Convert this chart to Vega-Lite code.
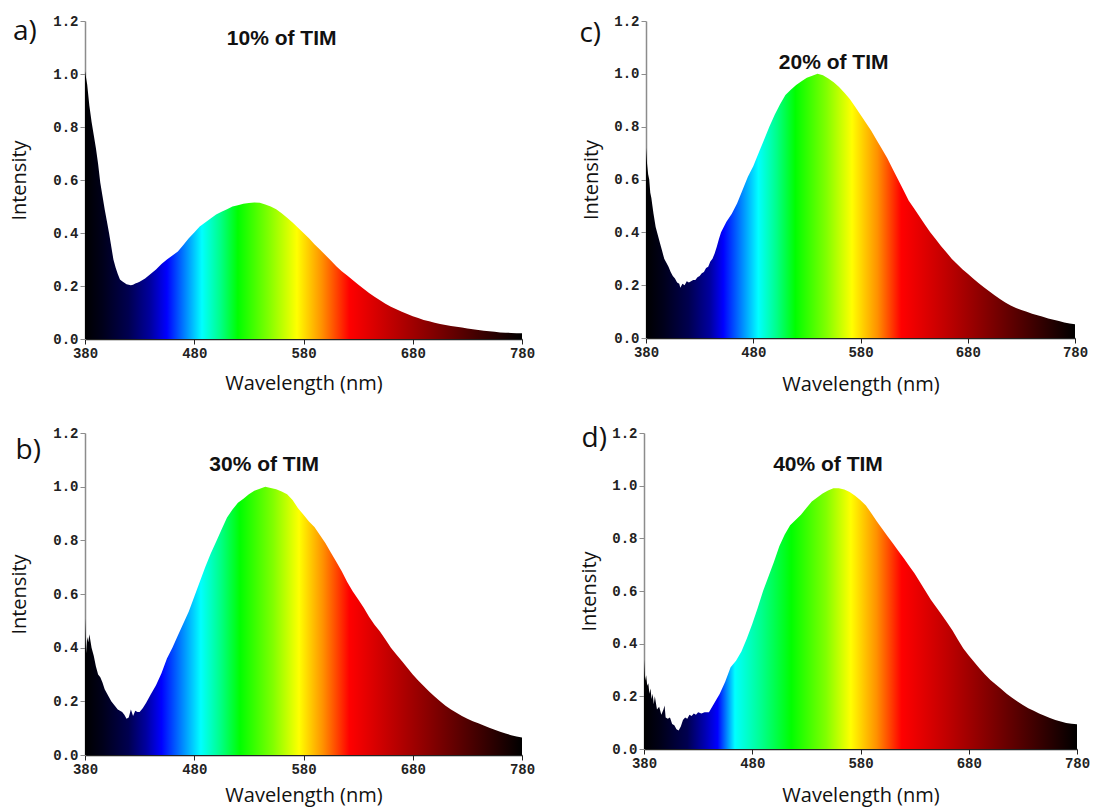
{
"$schema": "https://vega.github.io/schema/vega-lite/v6.json",
"background": "white",
"padding": {"left": 9, "top": 14, "right": 5, "bottom": 5},
"spacing": 31,
"datasets": {
"a": [{"nm":380,"v":1.01},{"nm":382,"v":0.96},{"nm":384,"v":0.88},{"nm":386,"v":0.82},{"nm":388,"v":0.77},{"nm":390,"v":0.72},{"nm":392,"v":0.66},{"nm":394,"v":0.59},{"nm":396,"v":0.54},{"nm":398,"v":0.49},{"nm":400,"v":0.445},{"nm":402,"v":0.4},{"nm":404,"v":0.35},{"nm":406,"v":0.3},{"nm":408,"v":0.27},{"nm":410,"v":0.245},{"nm":412,"v":0.225},{"nm":414,"v":0.218},{"nm":416,"v":0.212},{"nm":418,"v":0.207},{"nm":420,"v":0.205},{"nm":422,"v":0.203},{"nm":424,"v":0.205},{"nm":426,"v":0.209},{"nm":428,"v":0.212},{"nm":430,"v":0.216},{"nm":435,"v":0.228},{"nm":440,"v":0.245},{"nm":445,"v":0.262},{"nm":450,"v":0.283},{"nm":455,"v":0.3},{"nm":460,"v":0.315},{"nm":465,"v":0.33},{"nm":470,"v":0.355},{"nm":475,"v":0.38},{"nm":480,"v":0.402},{"nm":485,"v":0.425},{"nm":490,"v":0.44},{"nm":495,"v":0.455},{"nm":500,"v":0.47},{"nm":505,"v":0.48},{"nm":510,"v":0.49},{"nm":515,"v":0.5},{"nm":520,"v":0.505},{"nm":525,"v":0.51},{"nm":530,"v":0.513},{"nm":535,"v":0.515},{"nm":540,"v":0.514},{"nm":545,"v":0.508},{"nm":550,"v":0.5},{"nm":555,"v":0.49},{"nm":560,"v":0.475},{"nm":565,"v":0.458},{"nm":570,"v":0.44},{"nm":575,"v":0.42},{"nm":580,"v":0.4},{"nm":585,"v":0.38},{"nm":590,"v":0.358},{"nm":595,"v":0.338},{"nm":600,"v":0.317},{"nm":605,"v":0.296},{"nm":610,"v":0.275},{"nm":615,"v":0.256},{"nm":620,"v":0.24},{"nm":625,"v":0.223},{"nm":630,"v":0.206},{"nm":635,"v":0.19},{"nm":640,"v":0.174},{"nm":645,"v":0.159},{"nm":650,"v":0.146},{"nm":655,"v":0.133},{"nm":660,"v":0.122},{"nm":665,"v":0.112},{"nm":670,"v":0.103},{"nm":675,"v":0.094},{"nm":680,"v":0.086},{"nm":685,"v":0.079},{"nm":690,"v":0.072},{"nm":695,"v":0.067},{"nm":700,"v":0.061},{"nm":705,"v":0.057},{"nm":710,"v":0.053},{"nm":715,"v":0.049},{"nm":720,"v":0.046},{"nm":725,"v":0.043},{"nm":730,"v":0.04},{"nm":735,"v":0.037},{"nm":740,"v":0.034},{"nm":745,"v":0.031},{"nm":750,"v":0.029},{"nm":755,"v":0.027},{"nm":760,"v":0.025},{"nm":765,"v":0.024},{"nm":770,"v":0.023},{"nm":775,"v":0.022},{"nm":780,"v":0.022}],
"c": [{"nm":380,"v":0.72},{"nm":381,"v":0.66},{"nm":382,"v":0.62},{"nm":383,"v":0.6},{"nm":384,"v":0.55},{"nm":385,"v":0.53},{"nm":386,"v":0.5},{"nm":387,"v":0.47},{"nm":389,"v":0.42},{"nm":391,"v":0.39},{"nm":393,"v":0.36},{"nm":395,"v":0.33},{"nm":397,"v":0.3},{"nm":399,"v":0.285},{"nm":401,"v":0.27},{"nm":403,"v":0.25},{"nm":405,"v":0.235},{"nm":407,"v":0.225},{"nm":409,"v":0.21},{"nm":411,"v":0.205},{"nm":412,"v":0.19},{"nm":414,"v":0.205},{"nm":416,"v":0.2},{"nm":418,"v":0.215},{"nm":420,"v":0.21},{"nm":422,"v":0.215},{"nm":424,"v":0.22},{"nm":426,"v":0.22},{"nm":428,"v":0.23},{"nm":430,"v":0.235},{"nm":432,"v":0.245},{"nm":434,"v":0.25},{"nm":436,"v":0.265},{"nm":438,"v":0.27},{"nm":440,"v":0.29},{"nm":442,"v":0.3},{"nm":444,"v":0.32},{"nm":446,"v":0.345},{"nm":448,"v":0.375},{"nm":450,"v":0.4},{"nm":455,"v":0.44},{"nm":460,"v":0.47},{"nm":465,"v":0.51},{"nm":470,"v":0.56},{"nm":475,"v":0.61},{"nm":480,"v":0.65},{"nm":485,"v":0.7},{"nm":490,"v":0.75},{"nm":495,"v":0.8},{"nm":500,"v":0.845},{"nm":505,"v":0.885},{"nm":510,"v":0.92},{"nm":515,"v":0.94},{"nm":520,"v":0.958},{"nm":525,"v":0.972},{"nm":530,"v":0.985},{"nm":535,"v":0.993},{"nm":540,"v":1.0},{"nm":545,"v":0.995},{"nm":550,"v":0.982},{"nm":555,"v":0.968},{"nm":560,"v":0.95},{"nm":565,"v":0.928},{"nm":570,"v":0.905},{"nm":575,"v":0.875},{"nm":580,"v":0.845},{"nm":585,"v":0.815},{"nm":590,"v":0.785},{"nm":595,"v":0.75},{"nm":600,"v":0.715},{"nm":605,"v":0.68},{"nm":610,"v":0.64},{"nm":615,"v":0.6},{"nm":620,"v":0.56},{"nm":625,"v":0.52},{"nm":630,"v":0.49},{"nm":635,"v":0.46},{"nm":640,"v":0.43},{"nm":645,"v":0.4},{"nm":650,"v":0.375},{"nm":655,"v":0.348},{"nm":660,"v":0.325},{"nm":665,"v":0.3},{"nm":670,"v":0.28},{"nm":675,"v":0.26},{"nm":680,"v":0.243},{"nm":685,"v":0.225},{"nm":690,"v":0.208},{"nm":695,"v":0.192},{"nm":700,"v":0.177},{"nm":705,"v":0.162},{"nm":710,"v":0.148},{"nm":715,"v":0.134},{"nm":720,"v":0.123},{"nm":725,"v":0.114},{"nm":730,"v":0.106},{"nm":735,"v":0.099},{"nm":740,"v":0.092},{"nm":745,"v":0.086},{"nm":750,"v":0.08},{"nm":755,"v":0.074},{"nm":760,"v":0.069},{"nm":765,"v":0.064},{"nm":770,"v":0.059},{"nm":775,"v":0.055},{"nm":780,"v":0.052}],
"b": [{"nm":380,"v":0.51},{"nm":381,"v":0.38},{"nm":382,"v":0.44},{"nm":383,"v":0.42},{"nm":384,"v":0.45},{"nm":386,"v":0.4},{"nm":388,"v":0.37},{"nm":390,"v":0.33},{"nm":392,"v":0.3},{"nm":394,"v":0.29},{"nm":396,"v":0.27},{"nm":398,"v":0.245},{"nm":400,"v":0.23},{"nm":402,"v":0.215},{"nm":404,"v":0.2},{"nm":406,"v":0.19},{"nm":408,"v":0.18},{"nm":410,"v":0.17},{"nm":412,"v":0.165},{"nm":414,"v":0.16},{"nm":416,"v":0.15},{"nm":418,"v":0.135},{"nm":420,"v":0.14},{"nm":422,"v":0.17},{"nm":424,"v":0.145},{"nm":426,"v":0.165},{"nm":428,"v":0.16},{"nm":430,"v":0.16},{"nm":433,"v":0.175},{"nm":436,"v":0.195},{"nm":440,"v":0.225},{"nm":445,"v":0.26},{"nm":450,"v":0.305},{"nm":455,"v":0.36},{"nm":460,"v":0.4},{"nm":465,"v":0.445},{"nm":470,"v":0.49},{"nm":475,"v":0.535},{"nm":480,"v":0.59},{"nm":485,"v":0.645},{"nm":490,"v":0.7},{"nm":495,"v":0.75},{"nm":500,"v":0.795},{"nm":505,"v":0.84},{"nm":510,"v":0.885},{"nm":515,"v":0.915},{"nm":520,"v":0.94},{"nm":525,"v":0.955},{"nm":530,"v":0.972},{"nm":535,"v":0.985},{"nm":540,"v":0.992},{"nm":545,"v":1.0},{"nm":550,"v":0.995},{"nm":555,"v":0.99},{"nm":560,"v":0.982},{"nm":565,"v":0.972},{"nm":570,"v":0.95},{"nm":575,"v":0.92},{"nm":580,"v":0.895},{"nm":585,"v":0.87},{"nm":590,"v":0.85},{"nm":595,"v":0.82},{"nm":600,"v":0.79},{"nm":605,"v":0.755},{"nm":610,"v":0.72},{"nm":615,"v":0.685},{"nm":620,"v":0.645},{"nm":625,"v":0.61},{"nm":630,"v":0.58},{"nm":635,"v":0.55},{"nm":640,"v":0.515},{"nm":645,"v":0.485},{"nm":650,"v":0.46},{"nm":655,"v":0.43},{"nm":660,"v":0.4},{"nm":665,"v":0.375},{"nm":670,"v":0.35},{"nm":675,"v":0.325},{"nm":680,"v":0.3},{"nm":685,"v":0.278},{"nm":690,"v":0.257},{"nm":695,"v":0.237},{"nm":700,"v":0.218},{"nm":705,"v":0.2},{"nm":710,"v":0.184},{"nm":715,"v":0.17},{"nm":720,"v":0.157},{"nm":725,"v":0.145},{"nm":730,"v":0.135},{"nm":735,"v":0.126},{"nm":740,"v":0.118},{"nm":745,"v":0.11},{"nm":750,"v":0.102},{"nm":755,"v":0.094},{"nm":760,"v":0.087},{"nm":765,"v":0.08},{"nm":770,"v":0.074},{"nm":775,"v":0.069},{"nm":780,"v":0.065}],
"d": [{"nm":380,"v":0.34},{"nm":381,"v":0.26},{"nm":382,"v":0.28},{"nm":383,"v":0.24},{"nm":384,"v":0.25},{"nm":385,"v":0.21},{"nm":386,"v":0.23},{"nm":387,"v":0.19},{"nm":388,"v":0.21},{"nm":389,"v":0.17},{"nm":390,"v":0.2},{"nm":392,"v":0.15},{"nm":394,"v":0.16},{"nm":396,"v":0.13},{"nm":398,"v":0.15},{"nm":399,"v":0.165},{"nm":400,"v":0.12},{"nm":402,"v":0.115},{"nm":404,"v":0.12},{"nm":406,"v":0.095},{"nm":408,"v":0.09},{"nm":410,"v":0.075},{"nm":412,"v":0.07},{"nm":414,"v":0.085},{"nm":416,"v":0.11},{"nm":418,"v":0.12},{"nm":420,"v":0.115},{"nm":422,"v":0.13},{"nm":424,"v":0.125},{"nm":426,"v":0.135},{"nm":428,"v":0.13},{"nm":430,"v":0.14},{"nm":433,"v":0.135},{"nm":436,"v":0.14},{"nm":440,"v":0.14},{"nm":445,"v":0.175},{"nm":450,"v":0.21},{"nm":455,"v":0.255},{"nm":460,"v":0.31},{"nm":465,"v":0.335},{"nm":470,"v":0.37},{"nm":475,"v":0.42},{"nm":480,"v":0.475},{"nm":485,"v":0.535},{"nm":490,"v":0.6},{"nm":495,"v":0.655},{"nm":500,"v":0.71},{"nm":505,"v":0.77},{"nm":510,"v":0.815},{"nm":515,"v":0.85},{"nm":520,"v":0.87},{"nm":525,"v":0.89},{"nm":530,"v":0.915},{"nm":535,"v":0.94},{"nm":540,"v":0.955},{"nm":545,"v":0.97},{"nm":550,"v":0.982},{"nm":555,"v":0.99},{"nm":560,"v":0.99},{"nm":565,"v":0.985},{"nm":570,"v":0.976},{"nm":575,"v":0.962},{"nm":580,"v":0.945},{"nm":585,"v":0.925},{"nm":590,"v":0.895},{"nm":595,"v":0.865},{"nm":600,"v":0.836},{"nm":605,"v":0.808},{"nm":610,"v":0.78},{"nm":615,"v":0.752},{"nm":620,"v":0.724},{"nm":625,"v":0.695},{"nm":630,"v":0.666},{"nm":635,"v":0.633},{"nm":640,"v":0.6},{"nm":645,"v":0.567},{"nm":650,"v":0.538},{"nm":655,"v":0.51},{"nm":660,"v":0.48},{"nm":665,"v":0.45},{"nm":670,"v":0.415},{"nm":675,"v":0.382},{"nm":680,"v":0.355},{"nm":685,"v":0.33},{"nm":690,"v":0.306},{"nm":695,"v":0.283},{"nm":700,"v":0.262},{"nm":705,"v":0.245},{"nm":710,"v":0.228},{"nm":715,"v":0.21},{"nm":720,"v":0.195},{"nm":725,"v":0.18},{"nm":730,"v":0.167},{"nm":735,"v":0.155},{"nm":740,"v":0.145},{"nm":745,"v":0.135},{"nm":750,"v":0.126},{"nm":755,"v":0.118},{"nm":760,"v":0.11},{"nm":765,"v":0.104},{"nm":770,"v":0.099},{"nm":775,"v":0.096},{"nm":780,"v":0.094}]
},
"config": {
  "view": {"stroke": null},
  "axis": {"grid": false, "labelFlush": false, "labelFont": "Liberation Mono", "labelFontWeight": "bold", "labelFontSize": 14, "labelColor": "#222", "titleFont": "Open Sans", "titleFontSize": 20, "titleFontWeight": "normal", "titleColor": "#111", "tickSize": 5, "labelPadding": 2},
  "axisY": {"domainColor": "#8c8c8c", "tickColor": "#8c8c8c", "domainWidth": 1.5},
  "axisX": {"domainColor": "#222", "tickColor": "#222", "domainWidth": 1.5}
},
"vconcat": [
 {"hconcat": [
  {"width": 437, "height": 318,
   "layer": [
    {"data": {"name": "a"},
     "mark": {"type": "area", "line": false, "color": {"gradient": "linear", "x1": 0, "y1": 0, "x2": 1, "y2": 0, "stops": [{"offset":0,"color":"#000000"},{"offset":0.04,"color":"#00001a"},{"offset":0.1,"color":"#000050"},{"offset":0.15,"color":"#0000a0"},{"offset":0.1875,"color":"#0000ff"},{"offset":0.2675,"color":"#00ffff"},{"offset":0.31,"color":"#00ff88"},{"offset":0.35,"color":"#00ff00"},{"offset":0.42,"color":"#80ff00"},{"offset":0.485,"color":"#ffff00"},{"offset":0.5425,"color":"#ff9000"},{"offset":0.605,"color":"#ff0000"},{"offset":0.7,"color":"#c00000"},{"offset":0.8,"color":"#800000"},{"offset":0.9,"color":"#400000"},{"offset":1,"color":"#000000"}]}},
     "encoding": {
      "x": {"field": "nm", "type": "quantitative", "scale": {"domain": [380, 780], "nice": false}, "axis": {"values": [380,480,580,680,780], "title": "Wavelength (nm)", "titlePadding": 13}},
      "y": {"field": "v", "type": "quantitative", "scale": {"domain": [0, 1.2], "nice": false}, "axis": {"values": [0,0.2,0.4,0.6,0.8,1.0,1.2], "format": ".1f", "title": "Intensity", "titlePadding": 23}}
     }},
    {"data": {"values": [{"t": "10% of TIM"}]}, "mark": {"type": "text", "font": "Liberation Sans", "fontWeight": "bold", "fontSize": 21, "color": "#111"},
     "encoding": {"x": {"datum": 560}, "y": {"datum": 1.132}, "text": {"field": "t"}}},
    {"data": {"values": [{"t": "a)"}]}, "mark": {"type": "text", "font": "Open Sans", "fontSize": 28, "color": "#111"},
     "encoding": {"x": {"datum": 325}, "y": {"datum": 1.16}, "text": {"field": "t"}}}
   ]},
  {"width": 429, "height": 317,
   "layer": [
    {"data": {"name": "c"},
     "mark": {"type": "area", "line": false, "color": {"gradient": "linear", "x1": 0, "y1": 0, "x2": 1, "y2": 0, "stops": [{"offset":0,"color":"#000000"},{"offset":0.04,"color":"#00001a"},{"offset":0.1,"color":"#000050"},{"offset":0.15,"color":"#0000a0"},{"offset":0.18,"color":"#0000ff"},{"offset":0.262,"color":"#00ffff"},{"offset":0.305,"color":"#00ff88"},{"offset":0.348,"color":"#00ff00"},{"offset":0.42,"color":"#80ff00"},{"offset":0.48,"color":"#ffff00"},{"offset":0.54,"color":"#ff9000"},{"offset":0.595,"color":"#ff0000"},{"offset":0.7,"color":"#c00000"},{"offset":0.8,"color":"#800000"},{"offset":0.9,"color":"#400000"},{"offset":1,"color":"#000000"}]}},
     "encoding": {
      "x": {"field": "nm", "type": "quantitative", "scale": {"domain": [380, 780], "nice": false}, "axis": {"values": [380,480,580,680,780], "title": "Wavelength (nm)", "titlePadding": 15}},
      "y": {"field": "v", "type": "quantitative", "scale": {"domain": [0, 1.2], "nice": false}, "axis": {"values": [0,0.2,0.4,0.6,0.8,1.0,1.2], "format": ".1f", "title": "Intensity", "titlePadding": 12}}
     }},
    {"data": {"values": [{"t": "20% of TIM"}]}, "mark": {"type": "text", "font": "Liberation Sans", "fontWeight": "bold", "fontSize": 21, "color": "#111"},
     "encoding": {"x": {"datum": 555}, "y": {"datum": 1.04}, "text": {"field": "t"}}},
    {"data": {"values": [{"t": "c)"}]}, "mark": {"type": "text", "font": "Open Sans", "fontSize": 28, "color": "#111"},
     "encoding": {"x": {"datum": 328}, "y": {"datum": 1.15}, "text": {"field": "t"}}}
   ]}
 ], "spacing": 44},
 {"hconcat": [
  {"width": 437, "height": 322,
   "layer": [
    {"data": {"name": "b"},
     "mark": {"type": "area", "line": false, "color": {"gradient": "linear", "x1": 0, "y1": 0, "x2": 1, "y2": 0, "stops": [{"offset":0,"color":"#000000"},{"offset":0.04,"color":"#00001a"},{"offset":0.1,"color":"#000050"},{"offset":0.14,"color":"#0000a0"},{"offset":0.175,"color":"#0000ff"},{"offset":0.265,"color":"#00ffff"},{"offset":0.31,"color":"#00ff88"},{"offset":0.355,"color":"#00ff00"},{"offset":0.43,"color":"#80ff00"},{"offset":0.49,"color":"#ffff00"},{"offset":0.545,"color":"#ff9000"},{"offset":0.605,"color":"#ff0000"},{"offset":0.7,"color":"#c00000"},{"offset":0.8,"color":"#800000"},{"offset":0.9,"color":"#400000"},{"offset":1,"color":"#000000"}]}},
     "encoding": {
      "x": {"field": "nm", "type": "quantitative", "scale": {"domain": [380, 780], "nice": false}, "axis": {"values": [380,480,580,680,780], "title": "Wavelength (nm)", "titlePadding": 9}},
      "y": {"field": "v", "type": "quantitative", "scale": {"domain": [0, 1.2], "nice": false}, "axis": {"values": [0,0.2,0.4,0.6,0.8,1.0,1.2], "format": ".1f", "title": "Intensity", "titlePadding": 23}}
     }},
    {"data": {"values": [{"t": "30% of TIM"}]}, "mark": {"type": "text", "font": "Liberation Sans", "fontWeight": "bold", "fontSize": 21, "color": "#111"},
     "encoding": {"x": {"datum": 544}, "y": {"datum": 1.081}, "text": {"field": "t"}}},
    {"data": {"values": [{"t": "b)"}]}, "mark": {"type": "text", "font": "Open Sans", "fontSize": 28, "color": "#111"},
     "encoding": {"x": {"datum": 328}, "y": {"datum": 1.133}, "text": {"field": "t"}}}
   ]},
  {"width": 433, "height": 316,
   "layer": [
    {"data": {"name": "d"},
     "mark": {"type": "area", "line": false, "color": {"gradient": "linear", "x1": 0, "y1": 0, "x2": 1, "y2": 0, "stops": [{"offset":0,"color":"#000000"},{"offset":0.04,"color":"#00001a"},{"offset":0.1,"color":"#000050"},{"offset":0.14,"color":"#0000b0"},{"offset":0.17,"color":"#0000ff"},{"offset":0.21,"color":"#00ffff"},{"offset":0.27,"color":"#00ff90"},{"offset":0.34,"color":"#00ff00"},{"offset":0.42,"color":"#80ff00"},{"offset":0.4775,"color":"#ffff00"},{"offset":0.5375,"color":"#ff9000"},{"offset":0.595,"color":"#ff0000"},{"offset":0.7,"color":"#c00000"},{"offset":0.8,"color":"#800000"},{"offset":0.9,"color":"#400000"},{"offset":1,"color":"#000000"}]}},
     "encoding": {
      "x": {"field": "nm", "type": "quantitative", "scale": {"domain": [380, 780], "nice": false}, "axis": {"values": [380,480,580,680,780], "title": "Wavelength (nm)", "titlePadding": 15}},
      "y": {"field": "v", "type": "quantitative", "scale": {"domain": [0, 1.2], "nice": false}, "axis": {"values": [0,0.2,0.4,0.6,0.8,1.0,1.2], "format": ".1f", "title": "Intensity", "titlePadding": 12}}
     }},
    {"data": {"values": [{"t": "40% of TIM"}]}, "mark": {"type": "text", "font": "Liberation Sans", "fontWeight": "bold", "fontSize": 21, "color": "#111"},
     "encoding": {"x": {"datum": 550}, "y": {"datum": 1.078}, "text": {"field": "t"}}},
    {"data": {"values": [{"t": "d)"}]}, "mark": {"type": "text", "font": "Open Sans", "fontSize": 28, "color": "#111"},
     "encoding": {"x": {"datum": 334}, "y": {"datum": 1.177}, "text": {"field": "t"}}}
   ]}
 ], "spacing": 44}
]
}
